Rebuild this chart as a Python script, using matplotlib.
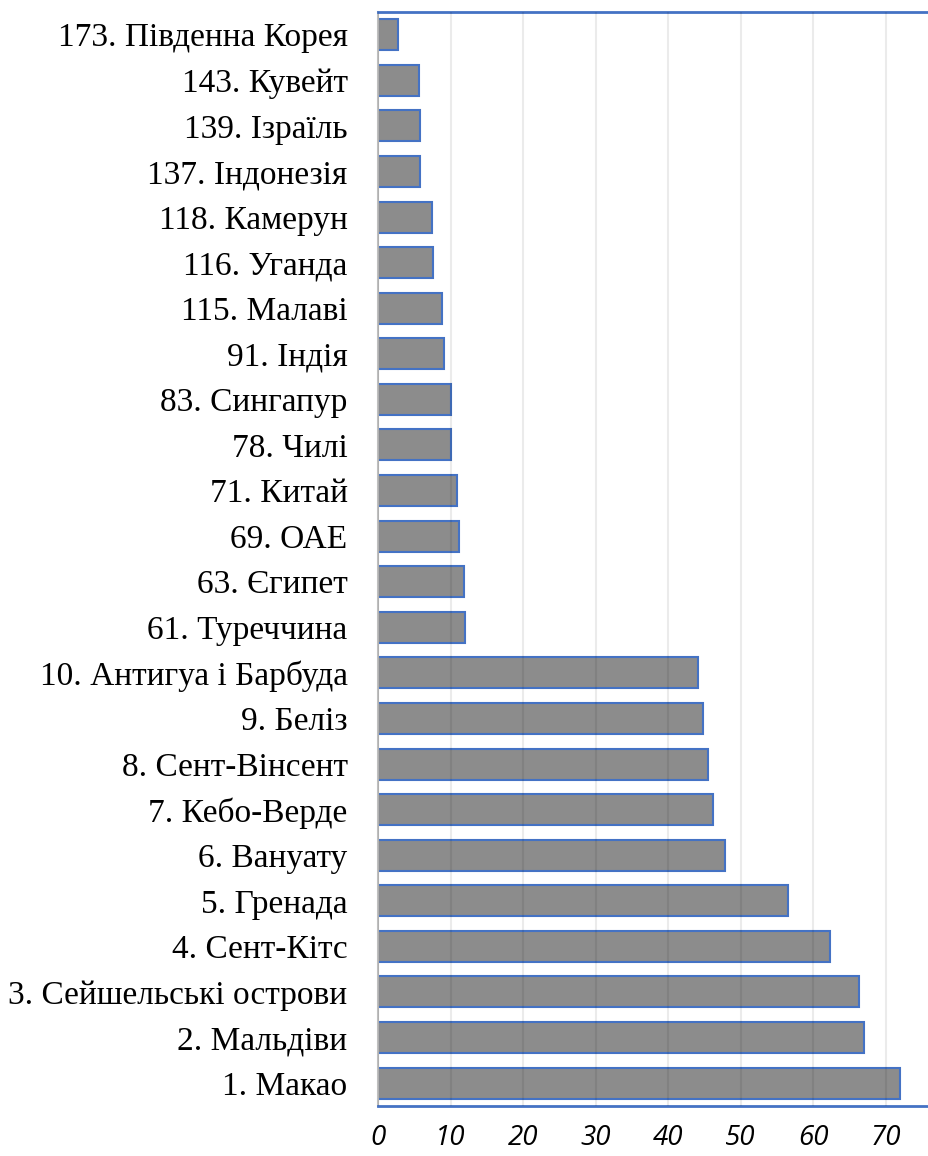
import numpy as np
from matplotlib import pyplot as plt

# країни (зверху вниз) і значення
countries = ['173. Південна Корея', '143. Кувейт', '139. Ізраїль', '137. Індонезія',
             '118. Камерун', '116. Уганда', '115. Малаві', '91. Індія',
             '83. Сингапур', '78. Чилі', '71. Китай', '69. ОАЕ',
             '63. Єгипет', '61. Туреччина', '10. Антигуа і Барбуда', '9. Беліз',
             '8. Сент-Вінсент', '7. Кебо-Верде', '6. Вануату', '5. Гренада',
             '4. Сент-Кітс', '3. Сейшельські острови', '2. Мальдіви', '1. Макао']
values = [2.7, 5.6, 5.8, 5.8,
          7.4, 7.6, 8.8, 9.1,
          10.0, 10.0, 10.9, 11.1,
          11.8, 12.0, 44.2, 44.8,
          45.5, 46.2, 47.9, 56.6,
          62.4, 66.4, 67.0, 72.0]
xticks = [0, 10, 20, 30, 40, 50, 60, 70]

blue = '#4472c4'

fig = plt.figure(figsize=(9.29, 11.56), dpi=100)
ax = fig.add_axes([0.407, 0.0433, 0.593, 0.9464])

y = np.arange(len(countries))[::-1]
ax.barh(y, values, height=0.68, color='#8c8c8c', edgecolor=blue, linewidth=1.5, zorder=2)

ax.set_ylim(-0.5, len(countries) - 0.5)
ax.set_xlim(0, 76)
ax.set_yticks(y)
ax.set_yticklabels(countries, fontfamily='Liberation Serif', fontsize=24)
ax.set_xticks(xticks)
ax.set_xticklabels([str(t) for t in xticks], fontfamily='Open Sans', fontstyle='italic', fontsize=20)
ax.tick_params(axis='both', length=0)
ax.tick_params(axis='x', pad=13)
ax.tick_params(axis='y', pad=22)

# сітка поверх стовпців
ax.xaxis.grid(True, color='black', alpha=0.08, linewidth=1.5, zorder=3)
ax.set_axisbelow(False)

for s in ['top', 'bottom']:
    ax.spines[s].set_color(blue)
    ax.spines[s].set_linewidth(2)
ax.spines['left'].set_color('#bfbfbf')
ax.spines['left'].set_linewidth(1.5)
ax.spines['right'].set_visible(False)

plt.savefig('out.png', dpi=100)
